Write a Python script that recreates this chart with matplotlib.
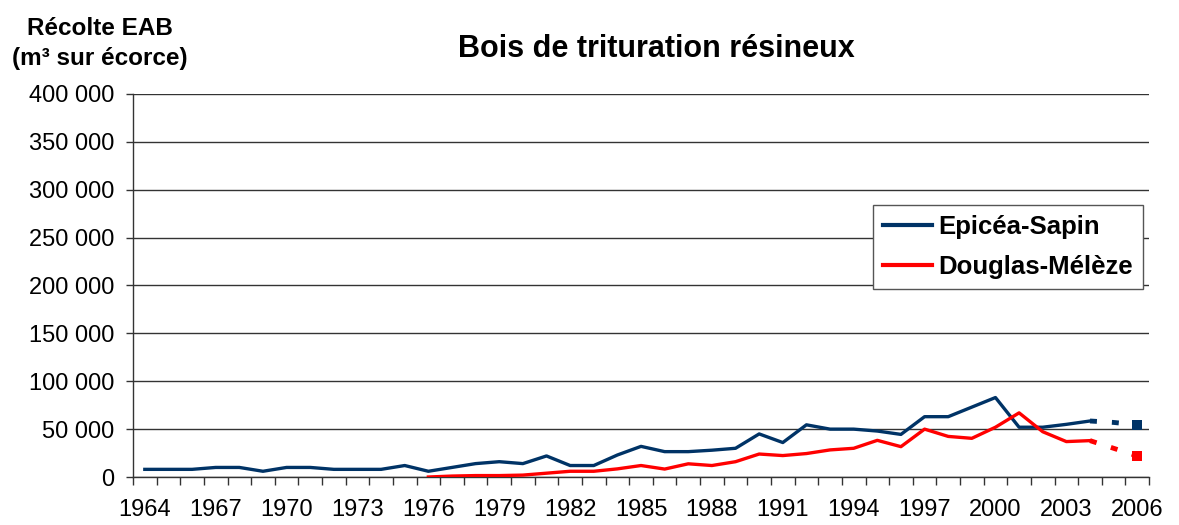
import matplotlib
matplotlib.use("Agg")
import matplotlib.pyplot as plt
from matplotlib.ticker import FixedLocator, FuncFormatter

# ---------------------------------------------------------------------------
#  Data
# ---------------------------------------------------------------------------

years = list(range(1964, 2007))

# Epicéa-Sapin, 1964 -> 2004
epicea = [8000, 8000, 8000, 10000, 10000, 6000, 10000, 10000, 8000, 8000, 8000,
          12000, 6000, 10000, 14000, 16000, 14000, 22000, 12000, 12000, 23000, 32000,
          26500, 26500, 28000, 30000, 45000, 36000, 54500, 50000, 50000, 48000, 44500,
          63000, 63000, 73000, 83000, 52000, 52000, 55000, 58500]

# Douglas-Mélèze, 1976 -> 2004
douglas = [0, 1000, 1500, 1500, 2000, 4000, 6000, 6000, 8500, 12000,
           8300, 13800, 12000, 16000, 24000, 22400, 24500, 28300, 30000, 38300, 31700,
           50000, 42400, 40400, 52000, 67000, 47300, 37000, 38000]

# estimates 2004 -> 2006 (dashed)
epicea_est = [58500, 57000, 54500]
douglas_est = [38000, 30000, 22000]

BLUE = "#003366"
RED = "#ff0000"
GRID = "#333333"

plt.rcParams["font.family"] = ["Liberation Sans", "DejaVu Sans"]
plt.rcParams["lines.scale_dashes"] = False

fig = plt.figure(figsize=(11.79, 5.25), dpi=100)
ax = fig.add_axes([0.1128, 0.0914, 0.8618, 0.7296])

x_all = list(range(len(years)))
x_ep = x_all[:len(epicea)]
x_do = x_all[years.index(1976):years.index(1976) + len(douglas)]
x_est = x_all[years.index(2004):]

ax.plot(x_ep, epicea, color=BLUE, lw=2.4, label="Epicéa-Sapin", zorder=3)
ax.plot(x_do, douglas, color=RED, lw=2.4, label="Douglas-Mélèze", zorder=3)
for vals, col in ((epicea_est, BLUE), (douglas_est, RED)):
    ax.plot(x_est, vals, color=col, lw=3.5, dashes=(5.0, 10.8), dash_capstyle="butt",
            marker="s", markersize=6.5, markevery=[2], markeredgewidth=0, zorder=3)

# axes
ax.set_xlim(-0.5, len(years) - 0.5)
ax.set_ylim(0, 400000)
ax.set_yticks(range(0, 400001, 50000))
ax.yaxis.set_major_formatter(FuncFormatter(lambda v, p: f"{int(v):,}".replace(",", " ")))
ax.grid(axis="y", color=GRID, lw=1.0)
ax.set_axisbelow(True)

label_pos = [i for i, y in enumerate(years) if (y - 1964) % 3 == 0]
ax.set_xticks(label_pos)
ax.set_xticklabels([str(years[i]) for i in label_pos])
ax.xaxis.set_minor_locator(FixedLocator([i - 0.5 for i in range(len(years) + 1)]))
ax.tick_params(axis="x", which="major", length=0, pad=15.5, labelsize=17)
ax.tick_params(axis="x", which="minor", length=6, width=1, color=GRID)
ax.tick_params(axis="y", length=5, width=1, color=GRID, labelsize=17, pad=8.5)

for s in ("top", "right"):
    ax.spines[s].set_visible(False)
for s in ("left", "bottom"):
    ax.spines[s].set_color(GRID)
    ax.spines[s].set_linewidth(1)

leg = ax.legend(loc="upper left", bbox_to_anchor=(0.728, 0.71), frameon=True, fancybox=False,
                framealpha=1, prop={"weight": "bold", "size": 18.5}, handlelength=1.9,
                handletextpad=0.25, borderpad=0.4, labelspacing=0.6, borderaxespad=0)
leg.get_frame().set_edgecolor("#555555")
leg.get_frame().set_linewidth(1)
for h in leg.get_lines():
    h.set_linewidth(3)

fig.text(0.557, 0.8914, "Bois de trituration résineux", ha="center", va="baseline",
         fontsize=22, fontweight="bold")
fig.text(0.0848, 0.9333, "Récolte EAB", ha="center", va="baseline", fontsize=17.5, fontweight="bold")
fig.text(0.0848, 0.8762, "(m³ sur écorce)", ha="center", va="baseline", fontsize=17.5, fontweight="bold")

fig.savefig("out.png", dpi=100)
